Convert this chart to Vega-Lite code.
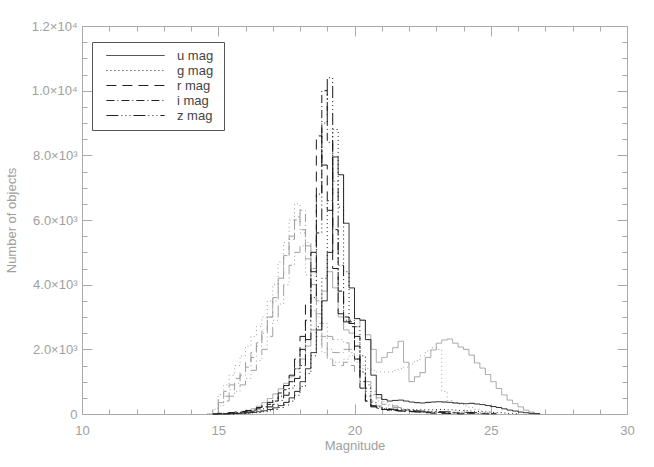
{
"$schema": "https://vega.github.io/schema/vega-lite/v6.json",
"width": 545, "height": 388,
"autosize": {"type": "none"},
"padding": {"left": 82, "top": 26, "right": 27, "bottom": 53},
"background": "white",
"config": {
  "view": {"stroke": "#aaaaaa", "strokeWidth": 1},
  "axis": {"domain": false, "grid": false, "tickColor": "#aaaaaa", "tickWidth": 1, "labelColor": "#a0a0a0", "titleColor": "#a0a0a0", "labelFont": "Liberation Sans", "titleFont": "Liberation Sans", "labelFontSize": 13, "titleFontSize": 13, "titleFontWeight": "normal"}
},
"data": {"values": [
{"s":"B","b":"u","m":15.4,"n":0},{"s":"B","b":"u","m":15.6,"n":20},{"s":"B","b":"u","m":15.8,"n":50},{"s":"B","b":"u","m":16.0,"n":100},{"s":"B","b":"u","m":16.2,"n":160},{"s":"B","b":"u","m":16.4,"n":240},{"s":"B","b":"u","m":16.6,"n":350},{"s":"B","b":"u","m":16.8,"n":480},{"s":"B","b":"u","m":17.0,"n":620},{"s":"B","b":"u","m":17.2,"n":780},{"s":"B","b":"u","m":17.4,"n":950},{"s":"B","b":"u","m":17.6,"n":1150},{"s":"B","b":"u","m":17.8,"n":1400},{"s":"B","b":"u","m":18.0,"n":1700},{"s":"B","b":"u","m":18.2,"n":2100},{"s":"B","b":"u","m":18.4,"n":2600},{"s":"B","b":"u","m":18.6,"n":3100},{"s":"B","b":"u","m":18.8,"n":3800},{"s":"B","b":"u","m":19.0,"n":4400},{"s":"B","b":"u","m":19.2,"n":3900},{"s":"B","b":"u","m":19.4,"n":3000},{"s":"B","b":"u","m":19.6,"n":2600},{"s":"B","b":"u","m":19.8,"n":2500},{"s":"B","b":"u","m":20.0,"n":2700},{"s":"B","b":"u","m":20.2,"n":2900},{"s":"B","b":"u","m":20.4,"n":2450},{"s":"B","b":"u","m":20.6,"n":2000},{"s":"B","b":"u","m":20.8,"n":1600},{"s":"B","b":"u","m":21.0,"n":1750},{"s":"B","b":"u","m":21.2,"n":1900},{"s":"B","b":"u","m":21.4,"n":2050},{"s":"B","b":"u","m":21.6,"n":2250},{"s":"B","b":"u","m":21.8,"n":1600},{"s":"B","b":"u","m":22.0,"n":1000},{"s":"B","b":"u","m":22.2,"n":1150},{"s":"B","b":"u","m":22.4,"n":1280},{"s":"B","b":"u","m":22.6,"n":1750},{"s":"B","b":"u","m":22.8,"n":1980},{"s":"B","b":"u","m":23.0,"n":2190},{"s":"B","b":"u","m":23.2,"n":2290},{"s":"B","b":"u","m":23.4,"n":2320},{"s":"B","b":"u","m":23.6,"n":2190},{"s":"B","b":"u","m":23.8,"n":2070},{"s":"B","b":"u","m":24.0,"n":2000},{"s":"B","b":"u","m":24.2,"n":1820},{"s":"B","b":"u","m":24.4,"n":1580},{"s":"B","b":"u","m":24.6,"n":1420},{"s":"B","b":"u","m":24.8,"n":1220},{"s":"B","b":"u","m":25.0,"n":1000},{"s":"B","b":"u","m":25.2,"n":790},{"s":"B","b":"u","m":25.4,"n":590},{"s":"B","b":"u","m":25.6,"n":430},{"s":"B","b":"u","m":25.8,"n":320},{"s":"B","b":"u","m":26.0,"n":220},{"s":"B","b":"u","m":26.2,"n":120},{"s":"B","b":"u","m":26.4,"n":60},{"s":"B","b":"u","m":26.6,"n":20},{"s":"B","b":"u","m":26.8,"n":0},
{"s":"B","b":"g","m":14.6,"n":0},{"s":"B","b":"g","m":14.8,"n":150},{"s":"B","b":"g","m":15.0,"n":600},{"s":"B","b":"g","m":15.2,"n":900},{"s":"B","b":"g","m":15.4,"n":1200},{"s":"B","b":"g","m":15.6,"n":1500},{"s":"B","b":"g","m":15.8,"n":1800},{"s":"B","b":"g","m":16.0,"n":2100},{"s":"B","b":"g","m":16.2,"n":2400},{"s":"B","b":"g","m":16.4,"n":2700},{"s":"B","b":"g","m":16.6,"n":3000},{"s":"B","b":"g","m":16.8,"n":3500},{"s":"B","b":"g","m":17.0,"n":4000},{"s":"B","b":"g","m":17.2,"n":4700},{"s":"B","b":"g","m":17.4,"n":5300},{"s":"B","b":"g","m":17.6,"n":6000},{"s":"B","b":"g","m":17.8,"n":6500},{"s":"B","b":"g","m":18.0,"n":5600},{"s":"B","b":"g","m":18.2,"n":4300},{"s":"B","b":"g","m":18.4,"n":3200},{"s":"B","b":"g","m":18.6,"n":2400},{"s":"B","b":"g","m":18.8,"n":1900},{"s":"B","b":"g","m":19.0,"n":1700},{"s":"B","b":"g","m":19.2,"n":1600},{"s":"B","b":"g","m":19.4,"n":1600},{"s":"B","b":"g","m":19.6,"n":1700},{"s":"B","b":"g","m":19.8,"n":1800},{"s":"B","b":"g","m":20.0,"n":1700},{"s":"B","b":"g","m":20.2,"n":1500},{"s":"B","b":"g","m":20.4,"n":1400},{"s":"B","b":"g","m":20.6,"n":1350},{"s":"B","b":"g","m":20.8,"n":1300},{"s":"B","b":"g","m":21.0,"n":1300},{"s":"B","b":"g","m":21.2,"n":1300},{"s":"B","b":"g","m":21.4,"n":1350},{"s":"B","b":"g","m":21.6,"n":1400},{"s":"B","b":"g","m":21.8,"n":1450},{"s":"B","b":"g","m":22.0,"n":1550},{"s":"B","b":"g","m":22.2,"n":1650},{"s":"B","b":"g","m":22.4,"n":1800},{"s":"B","b":"g","m":22.6,"n":1950},{"s":"B","b":"g","m":22.8,"n":2050},{"s":"B","b":"g","m":23.0,"n":2000},{"s":"B","b":"g","m":23.2,"n":700},{"s":"B","b":"g","m":23.4,"n":420},{"s":"B","b":"g","m":23.6,"n":350},{"s":"B","b":"g","m":23.8,"n":300},{"s":"B","b":"g","m":24.0,"n":250},{"s":"B","b":"g","m":24.2,"n":200},{"s":"B","b":"g","m":24.4,"n":150},{"s":"B","b":"g","m":24.6,"n":100},{"s":"B","b":"g","m":24.8,"n":60},{"s":"B","b":"g","m":25.0,"n":30},{"s":"B","b":"g","m":25.2,"n":0},
{"s":"B","b":"r","m":14.6,"n":0},{"s":"B","b":"r","m":14.8,"n":150},{"s":"B","b":"r","m":15.0,"n":500},{"s":"B","b":"r","m":15.2,"n":700},{"s":"B","b":"r","m":15.4,"n":900},{"s":"B","b":"r","m":15.6,"n":1100},{"s":"B","b":"r","m":15.8,"n":1300},{"s":"B","b":"r","m":16.0,"n":1600},{"s":"B","b":"r","m":16.2,"n":1900},{"s":"B","b":"r","m":16.4,"n":2200},{"s":"B","b":"r","m":16.6,"n":2600},{"s":"B","b":"r","m":16.8,"n":3000},{"s":"B","b":"r","m":17.0,"n":3600},{"s":"B","b":"r","m":17.2,"n":4200},{"s":"B","b":"r","m":17.4,"n":4900},{"s":"B","b":"r","m":17.6,"n":5500},{"s":"B","b":"r","m":17.8,"n":6100},{"s":"B","b":"r","m":18.0,"n":5700},{"s":"B","b":"r","m":18.2,"n":4800},{"s":"B","b":"r","m":18.4,"n":3700},{"s":"B","b":"r","m":18.6,"n":2800},{"s":"B","b":"r","m":18.8,"n":2100},{"s":"B","b":"r","m":19.0,"n":1700},{"s":"B","b":"r","m":19.2,"n":1500},{"s":"B","b":"r","m":19.4,"n":1500},{"s":"B","b":"r","m":19.6,"n":1600},{"s":"B","b":"r","m":19.8,"n":1500},{"s":"B","b":"r","m":20.0,"n":1300},{"s":"B","b":"r","m":20.2,"n":1000},{"s":"B","b":"r","m":20.4,"n":700},{"s":"B","b":"r","m":20.6,"n":400},{"s":"B","b":"r","m":20.8,"n":250},{"s":"B","b":"r","m":21.0,"n":200},{"s":"B","b":"r","m":21.2,"n":170},{"s":"B","b":"r","m":21.4,"n":150},{"s":"B","b":"r","m":21.6,"n":130},{"s":"B","b":"r","m":21.8,"n":110},{"s":"B","b":"r","m":22.0,"n":90},{"s":"B","b":"r","m":22.2,"n":70},{"s":"B","b":"r","m":22.4,"n":50},{"s":"B","b":"r","m":22.6,"n":30},{"s":"B","b":"r","m":22.8,"n":15},{"s":"B","b":"r","m":23.0,"n":0},
{"s":"B","b":"i","m":14.8,"n":0},{"s":"B","b":"i","m":15.0,"n":350},{"s":"B","b":"i","m":15.2,"n":550},{"s":"B","b":"i","m":15.4,"n":750},{"s":"B","b":"i","m":15.6,"n":950},{"s":"B","b":"i","m":15.8,"n":1200},{"s":"B","b":"i","m":16.0,"n":1450},{"s":"B","b":"i","m":16.2,"n":1750},{"s":"B","b":"i","m":16.4,"n":2100},{"s":"B","b":"i","m":16.6,"n":2500},{"s":"B","b":"i","m":16.8,"n":3000},{"s":"B","b":"i","m":17.0,"n":3500},{"s":"B","b":"i","m":17.2,"n":4200},{"s":"B","b":"i","m":17.4,"n":4900},{"s":"B","b":"i","m":17.6,"n":5400},{"s":"B","b":"i","m":17.8,"n":6000},{"s":"B","b":"i","m":18.0,"n":6300},{"s":"B","b":"i","m":18.2,"n":5200},{"s":"B","b":"i","m":18.4,"n":4000},{"s":"B","b":"i","m":18.6,"n":3000},{"s":"B","b":"i","m":18.8,"n":2400},{"s":"B","b":"i","m":19.0,"n":2000},{"s":"B","b":"i","m":19.2,"n":1900},{"s":"B","b":"i","m":19.4,"n":1900},{"s":"B","b":"i","m":19.6,"n":2000},{"s":"B","b":"i","m":19.8,"n":1900},{"s":"B","b":"i","m":20.0,"n":1600},{"s":"B","b":"i","m":20.2,"n":1300},{"s":"B","b":"i","m":20.4,"n":900},{"s":"B","b":"i","m":20.6,"n":600},{"s":"B","b":"i","m":20.8,"n":400},{"s":"B","b":"i","m":21.0,"n":300},{"s":"B","b":"i","m":21.2,"n":250},{"s":"B","b":"i","m":21.4,"n":200},{"s":"B","b":"i","m":21.6,"n":170},{"s":"B","b":"i","m":21.8,"n":140},{"s":"B","b":"i","m":22.0,"n":110},{"s":"B","b":"i","m":22.2,"n":80},{"s":"B","b":"i","m":22.4,"n":60},{"s":"B","b":"i","m":22.6,"n":40},{"s":"B","b":"i","m":22.8,"n":20},{"s":"B","b":"i","m":23.0,"n":0},
{"s":"B","b":"z","m":14.8,"n":0},{"s":"B","b":"z","m":15.0,"n":250},{"s":"B","b":"z","m":15.2,"n":400},{"s":"B","b":"z","m":15.4,"n":550},{"s":"B","b":"z","m":15.6,"n":700},{"s":"B","b":"z","m":15.8,"n":900},{"s":"B","b":"z","m":16.0,"n":1100},{"s":"B","b":"z","m":16.2,"n":1350},{"s":"B","b":"z","m":16.4,"n":1650},{"s":"B","b":"z","m":16.6,"n":2000},{"s":"B","b":"z","m":16.8,"n":2400},{"s":"B","b":"z","m":17.0,"n":2900},{"s":"B","b":"z","m":17.2,"n":3400},{"s":"B","b":"z","m":17.4,"n":4000},{"s":"B","b":"z","m":17.6,"n":4600},{"s":"B","b":"z","m":17.8,"n":5000},{"s":"B","b":"z","m":18.0,"n":5200},{"s":"B","b":"z","m":18.2,"n":5300},{"s":"B","b":"z","m":18.4,"n":4500},{"s":"B","b":"z","m":18.6,"n":3500},{"s":"B","b":"z","m":18.8,"n":2800},{"s":"B","b":"z","m":19.0,"n":2400},{"s":"B","b":"z","m":19.2,"n":2300},{"s":"B","b":"z","m":19.4,"n":2300},{"s":"B","b":"z","m":19.6,"n":2200},{"s":"B","b":"z","m":19.8,"n":2000},{"s":"B","b":"z","m":20.0,"n":1700},{"s":"B","b":"z","m":20.2,"n":1400},{"s":"B","b":"z","m":20.4,"n":1000},{"s":"B","b":"z","m":20.6,"n":700},{"s":"B","b":"z","m":20.8,"n":500},{"s":"B","b":"z","m":21.0,"n":380},{"s":"B","b":"z","m":21.2,"n":300},{"s":"B","b":"z","m":21.4,"n":250},{"s":"B","b":"z","m":21.6,"n":200},{"s":"B","b":"z","m":21.8,"n":160},{"s":"B","b":"z","m":22.0,"n":120},{"s":"B","b":"z","m":22.2,"n":90},{"s":"B","b":"z","m":22.4,"n":60},{"s":"B","b":"z","m":22.6,"n":40},{"s":"B","b":"z","m":22.8,"n":20},{"s":"B","b":"z","m":23.0,"n":0},
{"s":"A","b":"u","m":15.2,"n":0},{"s":"A","b":"u","m":15.4,"n":10},{"s":"A","b":"u","m":15.6,"n":15},{"s":"A","b":"u","m":15.8,"n":25},{"s":"A","b":"u","m":16.0,"n":35},{"s":"A","b":"u","m":16.2,"n":50},{"s":"A","b":"u","m":16.4,"n":70},{"s":"A","b":"u","m":16.6,"n":100},{"s":"A","b":"u","m":16.8,"n":140},{"s":"A","b":"u","m":17.0,"n":190},{"s":"A","b":"u","m":17.2,"n":260},{"s":"A","b":"u","m":17.4,"n":360},{"s":"A","b":"u","m":17.6,"n":500},{"s":"A","b":"u","m":17.8,"n":700},{"s":"A","b":"u","m":18.0,"n":1000},{"s":"A","b":"u","m":18.2,"n":1400},{"s":"A","b":"u","m":18.4,"n":1900},{"s":"A","b":"u","m":18.6,"n":2600},{"s":"A","b":"u","m":18.8,"n":3500},{"s":"A","b":"u","m":19.0,"n":5000},{"s":"A","b":"u","m":19.2,"n":7950},{"s":"A","b":"u","m":19.4,"n":7400},{"s":"A","b":"u","m":19.6,"n":5900},{"s":"A","b":"u","m":19.8,"n":3900},{"s":"A","b":"u","m":20.0,"n":2950},{"s":"A","b":"u","m":20.2,"n":2900},{"s":"A","b":"u","m":20.4,"n":2300},{"s":"A","b":"u","m":20.6,"n":1200},{"s":"A","b":"u","m":20.8,"n":600},{"s":"A","b":"u","m":21.0,"n":450},{"s":"A","b":"u","m":21.2,"n":400},{"s":"A","b":"u","m":21.4,"n":420},{"s":"A","b":"u","m":21.6,"n":430},{"s":"A","b":"u","m":21.8,"n":400},{"s":"A","b":"u","m":22.0,"n":370},{"s":"A","b":"u","m":22.2,"n":350},{"s":"A","b":"u","m":22.4,"n":340},{"s":"A","b":"u","m":22.6,"n":360},{"s":"A","b":"u","m":22.8,"n":370},{"s":"A","b":"u","m":23.0,"n":380},{"s":"A","b":"u","m":23.2,"n":370},{"s":"A","b":"u","m":23.4,"n":360},{"s":"A","b":"u","m":23.6,"n":340},{"s":"A","b":"u","m":23.8,"n":330},{"s":"A","b":"u","m":24.0,"n":320},{"s":"A","b":"u","m":24.2,"n":330},{"s":"A","b":"u","m":24.4,"n":310},{"s":"A","b":"u","m":24.6,"n":290},{"s":"A","b":"u","m":24.8,"n":260},{"s":"A","b":"u","m":25.0,"n":230},{"s":"A","b":"u","m":25.2,"n":200},{"s":"A","b":"u","m":25.4,"n":160},{"s":"A","b":"u","m":25.6,"n":120},{"s":"A","b":"u","m":25.8,"n":90},{"s":"A","b":"u","m":26.0,"n":60},{"s":"A","b":"u","m":26.2,"n":40},{"s":"A","b":"u","m":26.4,"n":20},{"s":"A","b":"u","m":26.6,"n":10},{"s":"A","b":"u","m":26.8,"n":0},
{"s":"A","b":"g","m":15.4,"n":0},{"s":"A","b":"g","m":15.6,"n":10},{"s":"A","b":"g","m":15.8,"n":15},{"s":"A","b":"g","m":16.0,"n":25},{"s":"A","b":"g","m":16.2,"n":35},{"s":"A","b":"g","m":16.4,"n":50},{"s":"A","b":"g","m":16.6,"n":70},{"s":"A","b":"g","m":16.8,"n":100},{"s":"A","b":"g","m":17.0,"n":140},{"s":"A","b":"g","m":17.2,"n":200},{"s":"A","b":"g","m":17.4,"n":280},{"s":"A","b":"g","m":17.6,"n":400},{"s":"A","b":"g","m":17.8,"n":580},{"s":"A","b":"g","m":18.0,"n":850},{"s":"A","b":"g","m":18.2,"n":1250},{"s":"A","b":"g","m":18.4,"n":1800},{"s":"A","b":"g","m":18.6,"n":2700},{"s":"A","b":"g","m":18.8,"n":4200},{"s":"A","b":"g","m":19.0,"n":6600},{"s":"A","b":"g","m":19.2,"n":8800},{"s":"A","b":"g","m":19.4,"n":6400},{"s":"A","b":"g","m":19.6,"n":4400},{"s":"A","b":"g","m":19.8,"n":2900},{"s":"A","b":"g","m":20.0,"n":2700},{"s":"A","b":"g","m":20.2,"n":1800},{"s":"A","b":"g","m":20.4,"n":800},{"s":"A","b":"g","m":20.6,"n":350},{"s":"A","b":"g","m":20.8,"n":220},{"s":"A","b":"g","m":21.0,"n":180},{"s":"A","b":"g","m":21.2,"n":160},{"s":"A","b":"g","m":21.4,"n":150},{"s":"A","b":"g","m":21.6,"n":150},{"s":"A","b":"g","m":21.8,"n":140},{"s":"A","b":"g","m":22.0,"n":140},{"s":"A","b":"g","m":22.2,"n":130},{"s":"A","b":"g","m":22.4,"n":130},{"s":"A","b":"g","m":22.6,"n":130},{"s":"A","b":"g","m":22.8,"n":130},{"s":"A","b":"g","m":23.0,"n":140},{"s":"A","b":"g","m":23.2,"n":140},{"s":"A","b":"g","m":23.4,"n":130},{"s":"A","b":"g","m":23.6,"n":120},{"s":"A","b":"g","m":23.8,"n":110},{"s":"A","b":"g","m":24.0,"n":100},{"s":"A","b":"g","m":24.2,"n":90},{"s":"A","b":"g","m":24.4,"n":80},{"s":"A","b":"g","m":24.6,"n":70},{"s":"A","b":"g","m":24.8,"n":60},{"s":"A","b":"g","m":25.0,"n":50},{"s":"A","b":"g","m":25.2,"n":40},{"s":"A","b":"g","m":25.4,"n":30},{"s":"A","b":"g","m":25.6,"n":20},{"s":"A","b":"g","m":25.8,"n":10},{"s":"A","b":"g","m":26.0,"n":0},
{"s":"A","b":"r","m":14.8,"n":0},{"s":"A","b":"r","m":15.0,"n":20},{"s":"A","b":"r","m":15.2,"n":30},{"s":"A","b":"r","m":15.4,"n":45},{"s":"A","b":"r","m":15.6,"n":60},{"s":"A","b":"r","m":15.8,"n":80},{"s":"A","b":"r","m":16.0,"n":110},{"s":"A","b":"r","m":16.2,"n":150},{"s":"A","b":"r","m":16.4,"n":200},{"s":"A","b":"r","m":16.6,"n":270},{"s":"A","b":"r","m":16.8,"n":360},{"s":"A","b":"r","m":17.0,"n":480},{"s":"A","b":"r","m":17.2,"n":650},{"s":"A","b":"r","m":17.4,"n":880},{"s":"A","b":"r","m":17.6,"n":1200},{"s":"A","b":"r","m":17.8,"n":1700},{"s":"A","b":"r","m":18.0,"n":2400},{"s":"A","b":"r","m":18.2,"n":3400},{"s":"A","b":"r","m":18.4,"n":5000},{"s":"A","b":"r","m":18.6,"n":8600},{"s":"A","b":"r","m":18.8,"n":7700},{"s":"A","b":"r","m":19.0,"n":6300},{"s":"A","b":"r","m":19.2,"n":4500},{"s":"A","b":"r","m":19.4,"n":3100},{"s":"A","b":"r","m":19.6,"n":2850},{"s":"A","b":"r","m":19.8,"n":2700},{"s":"A","b":"r","m":20.0,"n":1700},{"s":"A","b":"r","m":20.2,"n":800},{"s":"A","b":"r","m":20.4,"n":400},{"s":"A","b":"r","m":20.6,"n":250},{"s":"A","b":"r","m":20.8,"n":180},{"s":"A","b":"r","m":21.0,"n":140},{"s":"A","b":"r","m":21.2,"n":120},{"s":"A","b":"r","m":21.4,"n":100},{"s":"A","b":"r","m":21.6,"n":90},{"s":"A","b":"r","m":21.8,"n":80},{"s":"A","b":"r","m":22.0,"n":70},{"s":"A","b":"r","m":22.2,"n":60},{"s":"A","b":"r","m":22.4,"n":50},{"s":"A","b":"r","m":22.6,"n":40},{"s":"A","b":"r","m":22.8,"n":30},{"s":"A","b":"r","m":23.0,"n":25},{"s":"A","b":"r","m":23.2,"n":20},{"s":"A","b":"r","m":23.4,"n":15},{"s":"A","b":"r","m":23.6,"n":10},{"s":"A","b":"r","m":23.8,"n":5},{"s":"A","b":"r","m":24.0,"n":0},
{"s":"A","b":"i","m":14.8,"n":0},{"s":"A","b":"i","m":15.0,"n":15},{"s":"A","b":"i","m":15.2,"n":25},{"s":"A","b":"i","m":15.4,"n":35},{"s":"A","b":"i","m":15.6,"n":50},{"s":"A","b":"i","m":15.8,"n":65},{"s":"A","b":"i","m":16.0,"n":90},{"s":"A","b":"i","m":16.2,"n":120},{"s":"A","b":"i","m":16.4,"n":160},{"s":"A","b":"i","m":16.6,"n":220},{"s":"A","b":"i","m":16.8,"n":300},{"s":"A","b":"i","m":17.0,"n":400},{"s":"A","b":"i","m":17.2,"n":550},{"s":"A","b":"i","m":17.4,"n":750},{"s":"A","b":"i","m":17.6,"n":1000},{"s":"A","b":"i","m":17.8,"n":1400},{"s":"A","b":"i","m":18.0,"n":2000},{"s":"A","b":"i","m":18.2,"n":2900},{"s":"A","b":"i","m":18.4,"n":4400},{"s":"A","b":"i","m":18.6,"n":6800},{"s":"A","b":"i","m":18.8,"n":10000},{"s":"A","b":"i","m":19.0,"n":8400},{"s":"A","b":"i","m":19.2,"n":5700},{"s":"A","b":"i","m":19.4,"n":3800},{"s":"A","b":"i","m":19.6,"n":2900},{"s":"A","b":"i","m":19.8,"n":2800},{"s":"A","b":"i","m":20.0,"n":2100},{"s":"A","b":"i","m":20.2,"n":1000},{"s":"A","b":"i","m":20.4,"n":400},{"s":"A","b":"i","m":20.6,"n":220},{"s":"A","b":"i","m":20.8,"n":170},{"s":"A","b":"i","m":21.0,"n":140},{"s":"A","b":"i","m":21.2,"n":120},{"s":"A","b":"i","m":21.4,"n":110},{"s":"A","b":"i","m":21.6,"n":100},{"s":"A","b":"i","m":21.8,"n":90},{"s":"A","b":"i","m":22.0,"n":80},{"s":"A","b":"i","m":22.2,"n":75},{"s":"A","b":"i","m":22.4,"n":70},{"s":"A","b":"i","m":22.6,"n":60},{"s":"A","b":"i","m":22.8,"n":55},{"s":"A","b":"i","m":23.0,"n":50},{"s":"A","b":"i","m":23.2,"n":45},{"s":"A","b":"i","m":23.4,"n":40},{"s":"A","b":"i","m":23.6,"n":35},{"s":"A","b":"i","m":23.8,"n":30},{"s":"A","b":"i","m":24.0,"n":25},{"s":"A","b":"i","m":24.2,"n":20},{"s":"A","b":"i","m":24.4,"n":15},{"s":"A","b":"i","m":24.6,"n":10},{"s":"A","b":"i","m":24.8,"n":5},{"s":"A","b":"i","m":25.0,"n":0},
{"s":"A","b":"z","m":15.0,"n":0},{"s":"A","b":"z","m":15.2,"n":10},{"s":"A","b":"z","m":15.4,"n":20},{"s":"A","b":"z","m":15.6,"n":30},{"s":"A","b":"z","m":15.8,"n":45},{"s":"A","b":"z","m":16.0,"n":60},{"s":"A","b":"z","m":16.2,"n":85},{"s":"A","b":"z","m":16.4,"n":115},{"s":"A","b":"z","m":16.6,"n":160},{"s":"A","b":"z","m":16.8,"n":220},{"s":"A","b":"z","m":17.0,"n":300},{"s":"A","b":"z","m":17.2,"n":420},{"s":"A","b":"z","m":17.4,"n":580},{"s":"A","b":"z","m":17.6,"n":800},{"s":"A","b":"z","m":17.8,"n":1100},{"s":"A","b":"z","m":18.0,"n":1500},{"s":"A","b":"z","m":18.2,"n":2300},{"s":"A","b":"z","m":18.4,"n":3600},{"s":"A","b":"z","m":18.6,"n":5600},{"s":"A","b":"z","m":18.8,"n":9000},{"s":"A","b":"z","m":19.0,"n":10400},{"s":"A","b":"z","m":19.2,"n":7200},{"s":"A","b":"z","m":19.4,"n":4600},{"s":"A","b":"z","m":19.6,"n":3000},{"s":"A","b":"z","m":19.8,"n":2850},{"s":"A","b":"z","m":20.0,"n":2400},{"s":"A","b":"z","m":20.2,"n":1300},{"s":"A","b":"z","m":20.4,"n":550},{"s":"A","b":"z","m":20.6,"n":250},{"s":"A","b":"z","m":20.8,"n":190},{"s":"A","b":"z","m":21.0,"n":160},{"s":"A","b":"z","m":21.2,"n":140},{"s":"A","b":"z","m":21.4,"n":130},{"s":"A","b":"z","m":21.6,"n":120},{"s":"A","b":"z","m":21.8,"n":110},{"s":"A","b":"z","m":22.0,"n":100},{"s":"A","b":"z","m":22.2,"n":95},{"s":"A","b":"z","m":22.4,"n":90},{"s":"A","b":"z","m":22.6,"n":85},{"s":"A","b":"z","m":22.8,"n":80},{"s":"A","b":"z","m":23.0,"n":75},{"s":"A","b":"z","m":23.2,"n":70},{"s":"A","b":"z","m":23.4,"n":65},{"s":"A","b":"z","m":23.6,"n":60},{"s":"A","b":"z","m":23.8,"n":55},{"s":"A","b":"z","m":24.0,"n":50},{"s":"A","b":"z","m":24.2,"n":45},{"s":"A","b":"z","m":24.4,"n":40},{"s":"A","b":"z","m":24.6,"n":30},{"s":"A","b":"z","m":24.8,"n":20},{"s":"A","b":"z","m":25.0,"n":10},{"s":"A","b":"z","m":25.2,"n":0}
]},
"layer": [
  {
    "mark": {"type": "line", "interpolate": "step-after", "strokeWidth": 1},
    "encoding": {
      "x": {"field": "m", "type": "quantitative", "scale": {"domain": [10, 30], "nice": false, "zero": false},
        "axis": {"orient": "bottom", "values": [10, 15, 20, 25, 30], "ticks": false, "labelPadding": 10, "labelFlush": false, "labelOverlap": false,
          "title": "Magnitude", "titlePadding": 2}},
      "y": {"field": "n", "type": "quantitative", "scale": {"domain": [0, 12000], "nice": false},
        "axis": {"orient": "left", "values": [0, 2000, 4000, 6000, 8000, 10000, 12000], "ticks": false,
          "labelExpr": "datum.value === 0 ? '0' : datum.value >= 10000 ? format(datum.value / 10000, '.1f') + '×10⁴' : format(datum.value / 1000, '.1f') + '×10³'",
          "labelPadding": 5, "labelOverlap": false, "labelFlush": false,
          "title": "Number of objects", "titlePadding": 13}},
      "color": {"field": "s", "type": "nominal", "scale": {"domain": ["A", "B"], "range": ["#1a1a1a", "#a0a0a0"]}, "legend": null},
      "strokeDash": {"field": "b", "type": "nominal",
        "scale": {"domain": ["u", "g", "r", "i", "z"], "range": [[1, 0], [1, 3], [10, 6], [8, 3, 1, 3], [12, 3, 1, 3, 1, 3, 1, 3]]},
        "legend": {"orient": "none", "legendX": 10, "legendY": 16, "title": null, "strokeColor": "#555555", "fillColor": "white",
          "padding": 7, "symbolType": "M-9.7,0H9.7", "symbolSize": 36, "symbolOffset": 30, "symbolStrokeColor": "#222222", "symbolStrokeWidth": 1,
          "labelExpr": "datum.label + '  mag'", "labelFont": "Liberation Sans", "labelFontSize": 13, "labelColor": "#444444", "labelOffset": 35, "rowPadding": 1}}
    }
  },
  {
    "mark": {"type": "point", "opacity": 0},
    "encoding": {
      "x": {"field": "m", "type": "quantitative", "axis": {"orient": "bottom", "values": [10, 15, 20, 25, 30], "labels": false, "title": null, "tickSize": -10}},
      "y": {"field": "n", "type": "quantitative", "axis": {"orient": "left", "values": [0, 2000, 4000, 6000, 8000, 10000, 12000], "labels": false, "title": null, "tickSize": -10}}
    }
  },
  {
    "mark": {"type": "point", "opacity": 0},
    "encoding": {
      "x": {"field": "m", "type": "quantitative", "axis": {"orient": "bottom", "values": [11,12,13,14,16,17,18,19,21,22,23,24,26,27,28,29], "labels": false, "title": null, "tickSize": -5}},
      "y": {"field": "n", "type": "quantitative", "axis": {"orient": "left", "values": [500,1000,1500,2500,3000,3500,4500,5000,5500,6500,7000,7500,8500,9000,9500,10500,11000,11500], "labels": false, "title": null, "tickSize": -5}}
    }
  },
  {
    "mark": {"type": "point", "opacity": 0},
    "encoding": {
      "x": {"field": "m", "type": "quantitative", "axis": {"orient": "top", "values": [10, 15, 20, 25, 30], "labels": false, "title": null, "tickSize": -10}},
      "y": {"field": "n", "type": "quantitative", "axis": {"orient": "right", "values": [0, 2000, 4000, 6000, 8000, 10000, 12000], "labels": false, "title": null, "tickSize": -10}}
    }
  },
  {
    "mark": {"type": "point", "opacity": 0},
    "encoding": {
      "x": {"field": "m", "type": "quantitative", "axis": {"orient": "top", "values": [11,12,13,14,16,17,18,19,21,22,23,24,26,27,28,29], "labels": false, "title": null, "tickSize": -5}},
      "y": {"field": "n", "type": "quantitative", "axis": {"orient": "right", "values": [500,1000,1500,2500,3000,3500,4500,5000,5500,6500,7000,7500,8500,9000,9500,10500,11000,11500], "labels": false, "title": null, "tickSize": -5}}
    }
  }
],
"resolve": {"axis": {"x": "independent", "y": "independent"}}
}
